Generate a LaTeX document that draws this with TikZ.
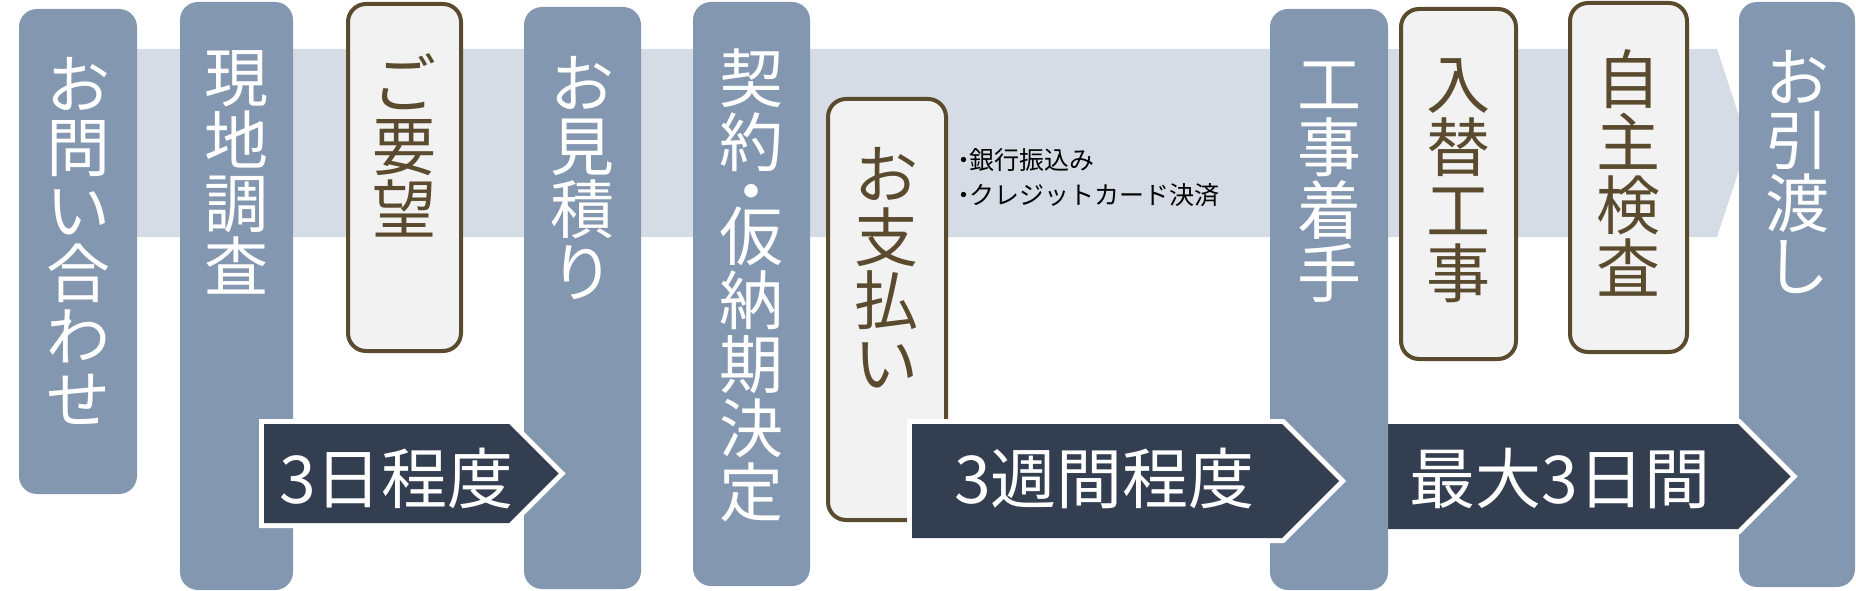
\documentclass[tikz,border=0pt]{standalone}
\usepackage{fontspec}
\newfontfamily\jp{Noto Sans CJK JP}
\definecolor{colbg}{HTML}{8497B0}
\definecolor{bandbg}{HTML}{D6DCE5}
\definecolor{darkbg}{HTML}{333F50}
\definecolor{boxbg}{HTML}{F2F2F2}
\definecolor{boxline}{HTML}{5A4A2E}
\newcommand{\ndot}{\makebox[0.45em]{・}}
\tikzset{
  colshape/.style={fill=colbg, rounded corners=18pt},
  boxshape/.style={fill=boxbg, draw=boxline, line width=4pt, rounded corners=18pt},
  arrshape/.style={fill=darkbg, preaction={draw=white, line width=10pt, line join=miter}},
  coltext/.style={anchor=north, inner sep=0pt, align=center, text=white, font={\jp\fontsize{64}{63}\selectfont}},
  boxtext/.style={coltext, text=boxline},
  arrtext/.style={anchor=base, inner sep=0pt, text=white, font={\jp\fontsize{66}{66}\selectfont}},
  notetext/.style={anchor=north west, inner sep=0pt, align=left, text=black, font={\jp\fontsize{25}{35}\selectfont}},
}
\begin{document}
\begin{tikzpicture}[x=1pt, y=-1pt]
\useasboundingbox (0,0) rectangle (1856,591);
% background band
\fill[bandbg] (100,49) -- (1717,49) -- (1748,143) -- (1717,237) -- (100,237) -- cycle;
% columns
\fill[colshape] (19,9) rectangle (137,494);
\fill[colshape] (180,2) rectangle (293,590);
\fill[colshape] (524,7) rectangle (641,589);
\fill[colshape] (693,2) rectangle (810,586);
\fill[colshape] (1739,2) rectangle (1855,587);
% boxes
\path[boxshape] (348,4) rectangle (461,351);
\path[boxshape] (828,99) rectangle (946,520);
\path[boxshape] (1401,9) rectangle (1516,359);
\path[boxshape] (1570,3) rectangle (1687,352);
% arrow under column
\path[arrshape] (1380,424) -- (1738,424) -- (1790.5,476.5) -- (1738,529) -- (1380,529) -- cycle;
\fill[colshape] (1270,9) rectangle (1388,590);
\path[arrshape] (264,424) -- (509,424) -- (558.5,473.5) -- (509,523) -- (264,523) -- cycle;
\path[arrshape] (912,424) -- (1282,424) -- (1339,481) -- (1282,538) -- (912,538) -- cycle;
% texts
\node[coltext] (t1) at (78,57) {お\\問\\い\\合\\わ\\せ};
\node[coltext] (t2) at (236.5,50) {現\\地\\調\\査};
\node[boxtext] (t3) at (404.5,53) {ご\\要\\望};
\node[coltext] (t4) at (582.5,56) {お\\見\\積\\り};
\node[coltext, font={\jp\fontsize{64}{64}\selectfont}] (t5) at (751.5,49) {契\\約\\[-15pt]・\\[-19pt]仮\\納\\期\\決\\定};
\node[boxtext] (t6) at (886.5,147) {お\\支\\払\\い};
\node[coltext] (t7) at (1329,62) {工\\事\\着\\手};
\node[boxtext] (t8) at (1458.5,58) {入\\替\\工\\事};
\node[boxtext] (t9) at (1628.5,49) {自\\主\\検\\査};
\node[coltext] (t10) at (1797,50) {お\\引\\渡\\し};
\node[arrtext] (a1t) at (396.5,503) {3日程度};
\node[arrtext] (a2t) at (1104.5,503) {3週間程度};
\node[arrtext] (a3t) at (1560,503) {最大3日間};
\node[notetext] (note) at (958,148) {\ndot 銀行振込み\\\ndot クレジットカード決済};
\end{tikzpicture}
\end{document}
